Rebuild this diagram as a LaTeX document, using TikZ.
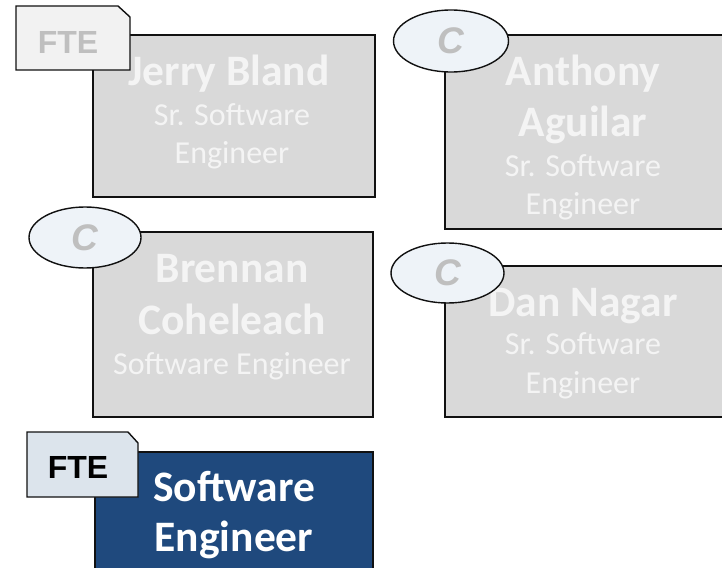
\documentclass[tikz,border=0pt]{standalone}
\usepackage{fontspec}
\setmainfont{Carlito}
\newfontfamily\tagfont{Liberation Sans}
\usetikzlibrary{shapes.geometric}
\definecolor{boxgray}{HTML}{D9D9D9}
\definecolor{navy}{HTML}{1F497D}
\definecolor{tagfill}{HTML}{F2F2F2}
\definecolor{tagblue}{HTML}{DCE4EC}
\definecolor{ellfill}{HTML}{EEF3F8}
\definecolor{taggray}{HTML}{BFBFBF}
\definecolor{paletext}{HTML}{F4F4F4}
\definecolor{edge}{HTML}{111111}
\begin{document}
\begin{tikzpicture}[x=1pt,y=-1pt,
  card/.style={rectangle,draw=edge,line width=1.4pt,fill=boxgray,inner sep=0pt},
  navycard/.style={card,fill=navy},
  tagshape/.style={draw=edge,line width=1.4pt,line join=miter},
  ctag/.style={ellipse,draw=edge,line width=1.4pt,fill=ellfill,inner sep=0pt},
  ctext/.style={font=\tagfont\fontsize{37}{37}\selectfont\bfseries\itshape,text=taggray,inner sep=0pt},
  ftetext/.style={font=\tagfont\fontsize{32}{32}\selectfont\bfseries,inner sep=0pt},
  nm/.style={anchor=base,inner sep=0pt,font=\fontsize{43.5}{49}\selectfont\bfseries,text=paletext},
  tt/.style={anchor=base,inner sep=0pt,font=\fontsize{32}{38}\selectfont,text=paletext},
  nmw/.style={nm,text=white}
]
\useasboundingbox (0,0) rectangle (722,567);
\clip (0,0) rectangle (722,567);
\fill[white] (0,0) rectangle (722,567);

% cards
\node[card,minimum width=282pt,minimum height=162pt] (jb) at (234,116) {};
\node[card,minimum width=279pt,minimum height=194pt] (aa) at (584.5,132) {};
\node[card,minimum width=280pt,minimum height=185pt] (bc) at (233,324.5) {};
\node[card,minimum width=279pt,minimum height=151pt] (dn) at (584.5,341.5) {};
\node[navycard,minimum width=278pt,minimum height=128pt] (se) at (234,516) {};

% texts
\node[nm] (jb1) at (229,86) {Jerry Bland};
\node[tt] (jb2) at (232,125) {Sr. Software};
\node[tt] (jb3) at (232,163) {Engineer};

\node[nm] (aa1) at (583,86) {Anthony};
\node[nm] (aa2) at (583,136) {Aguilar};
\node[tt] (aa3) at (583,176) {Sr. Software};
\node[tt] (aa4) at (583,214) {Engineer};

\node[nm] (bc1) at (232,282) {Brennan};
\node[nm] (bc2) at (232,334) {Coheleach};
\node[tt] (bc3) at (232,374) {Software Engineer};

\node[nm] (dn1) at (583,316) {Dan Nagar};
\node[tt] (dn2) at (583,354) {Sr. Software};
\node[tt] (dn3) at (583,393) {Engineer};

\node[nmw] (se1) at (234,501) {Software};
\node[nmw] (se2) at (234,551) {Engineer};

% FTE tags
\draw[tagshape,fill=tagfill] (16,6) -- (118,6) -- (130,17) -- (130,70) -- (16,70) -- cycle;
\node[ftetext,text=taggray] (fte1) at (68,42) {FTE};
\draw[tagshape,fill=tagblue] (27,432) -- (128,432) -- (138,443) -- (138,497) -- (27,497) -- cycle;
\node[ftetext,text=black] (fte2) at (78,467) {FTE};

% C tags
\node[ctag,minimum width=115pt,minimum height=62pt] (ea) at (451,41) {};
\node[ctext] (ca) at (ea.center) {C};
\node[ctag,minimum width=112pt,minimum height=61pt] (eb) at (85,237.5) {};
\node[ctext] (cb) at (eb.center) {C};
\node[ctag,minimum width=113pt,minimum height=60pt] (ed) at (447.5,273) {};
\node[ctext] (cd) at (ed.center) {C};
\end{tikzpicture}
\end{document}
